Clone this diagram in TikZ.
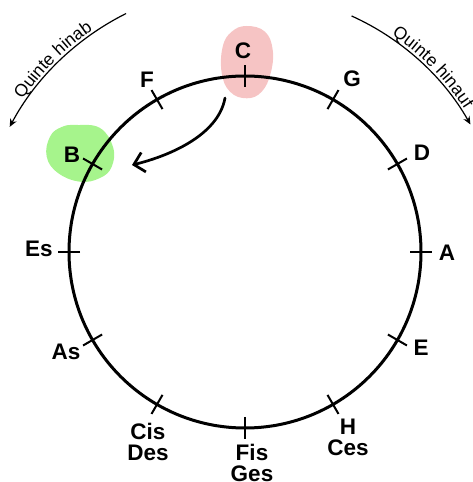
\documentclass[tikz,border=0pt]{standalone}
\usepackage{fontspec}
\setmainfont{Liberation Sans}
\usetikzlibrary{arrows.meta,calc,decorations.text}
\definecolor{blobpink}{RGB}{246,196,196}
\definecolor{blobgreen}{RGB}{166,244,140}
\newcommand{\quintefont}{\fontsize{17.5}{19}\selectfont}
\tikzset{
  lbl/.style={font=\bfseries\fontsize{22.5}{21}\selectfont, inner sep=0pt, align=center},
  tickmark/.style={line width=2pt},
  ring/.style={line width=3pt},
  quinte/.style={line width=1.2pt, -{Stealth[length=8pt,width=7pt]}},
  bigarrow/.style={line width=2.7pt, line cap=round, -{Straight Barb[length=10pt,width=20pt]}},
}
\begin{document}
\begin{tikzpicture}[x=1pt,y=1pt]
\useasboundingbox (0,0) rectangle (472,482);
\coordinate (O) at (245,230);
% highlight blobs
\fill[blobpink] plot[smooth cycle, tension=0.7] coordinates {(246.7,456) (265,450.3) (272.7,432) (270.7,409) (261.7,390.3) (246.7,383.7) (230,390.3) (221.7,409) (222.7,435.3) (231.7,450.3)};
\fill[blobgreen] plot[smooth cycle, tension=0.7] coordinates {(76.7,357) (100,354) (113,335) (111.7,315.3) (100,304) (80,300.3) (58,309) (46.7,325.3) (50,345.3) (61.7,355)};
% circle of fifths
\draw[ring] (O) circle[radius=176];
\foreach \a in {0,30,...,330}
  \draw[tickmark] ($(O)+(\a:165)$) -- ($(O)+(\a:187)$);
% labels
\node[lbl] (nC) at (243,431) {C};
\node[lbl] (nG) at (352,403) {G};
\node[lbl] (nD) at (422,329) {D};
\node[lbl] (nA) at (447,229) {A};
\node[lbl] (nE) at (421,134) {E};
\node[lbl] (nH) at (348,45) {H\\Ces};
\node[lbl] (nFis) at (252,19) {Fis\\Ges};
\node[lbl] (nCis) at (148,40) {Cis\\Des};
\node[lbl] (nAs) at (66,130) {As};
\node[lbl] (nEs) at (39,233) {Es};
\node[lbl] (nB) at (72,327) {B};
\node[lbl] (nF) at (147,402) {F};
% hand-drawn arrow C -> B
\coordinate (arrS) at (225,384);
\coordinate (arrE) at (132,317);
\draw[bigarrow] (arrS) .. controls (218,345) and (165,325) .. (arrE);
% Quinte hinab
\coordinate (hinabS) at ($(O)+(116.5:266.5)$);
\draw[quinte] (hinabS) arc[start angle=116.5, end angle=152, radius=266.5];
\path[decorate, decoration={text along path, text={|\quintefont|Quinte hinab}, text align=center, raise=3pt}]
  ($(O)+(150:266.5)$) arc[start angle=150, end angle=120, radius=266.5];
% Quinte hinauf
\coordinate (hinaufS) at ($(O)+(65.7:259)$);
\draw[quinte] (hinaufS) arc[start angle=65.7, end angle=29.5, radius=259];
\path[decorate, decoration={text along path, text={|\quintefont|Quinte hinauf}, text align=center, raise=3pt}]
  ($(O)+(59.5:259)$) arc[start angle=59.5, end angle=29.5, radius=259];
\end{tikzpicture}
\end{document}
